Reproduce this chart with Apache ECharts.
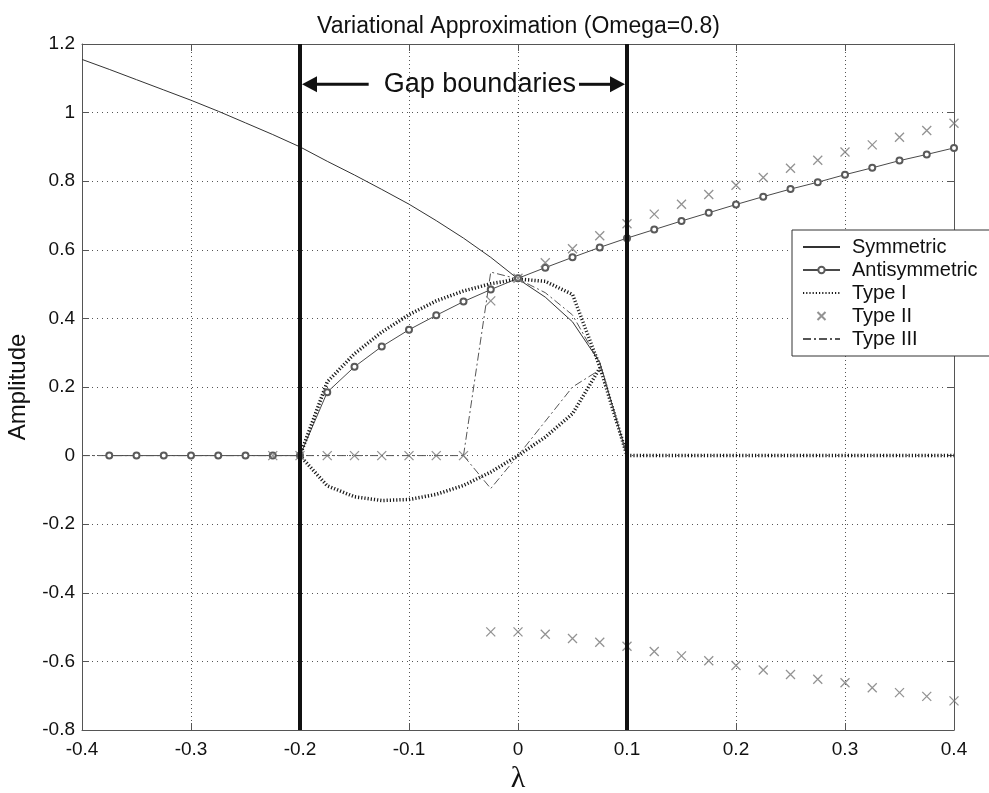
<!DOCTYPE html>
<html>
<head>
<meta charset="utf-8">
<script src="https://cdn.jsdelivr.net/npm/echarts@6/dist/echarts.min.js"></script>
<style>
  html, body { margin: 0; padding: 0; background: #fff; }
  #chart { width: 989px; height: 793px; }
</style>
</head>
<body>
<div id="chart"></div>
<script>
// Axis ticks
const xTicks = [-0.4, -0.3, -0.2, -0.1, 0, 0.1, 0.2, 0.3, 0.4];
const yTicks = [-0.8, -0.6, -0.4, -0.2, 0, 0.2, 0.4, 0.6, 0.8, 1, 1.2];

// Gap edges (thick vertical lines) and their annotation
const gapEdges = [-0.2, 0.1];
const gapLabelText = 'Gap boundaries';
const gapLabelPos = [-0.035, 1.0825];
const gapArrowInner = [-0.137, 0.056];

// Symmetric branch
const lamSym = [-0.4, -0.375, -0.35, -0.325, -0.3, -0.275, -0.25, -0.225, -0.2, -0.175, -0.15,
  -0.125, -0.1, -0.075, -0.05, -0.025, 0, 0.025, 0.05, 0.075, 0.1];
const ampSym = [1.155, 1.126, 1.096, 1.066, 1.036, 1.004, 0.970, 0.936, 0.900, 0.858, 0.818,
  0.776, 0.733, 0.685, 0.634, 0.578, 0.515, 0.462, 0.390, 0.272, 0];

// Antisymmetric branch
const lamAnti = [-0.375, -0.35, -0.325, -0.3, -0.275, -0.25, -0.225, -0.2, -0.175, -0.15, -0.125,
  -0.1, -0.075, -0.05, -0.025, 0, 0.025, 0.05, 0.075, 0.1, 0.125, 0.15, 0.175, 0.2, 0.225, 0.25,
  0.275, 0.3, 0.325, 0.35, 0.375, 0.4];
const ampAnti = [0, 0, 0, 0, 0, 0, 0, 0, 0.185, 0.259, 0.318,
  0.367, 0.409, 0.449, 0.484, 0.517, 0.548, 0.578, 0.607, 0.634, 0.659, 0.684, 0.708, 0.732, 0.755, 0.777,
  0.797, 0.819, 0.839, 0.860, 0.878, 0.897];

// Type I: upper arc, lower arc, zero branch beyond the gap
const lamT1Upper = [-0.2, -0.175, -0.15, -0.125, -0.1, -0.075, -0.05, -0.025, 0, 0.025, 0.05, 0.075, 0.1];
const ampT1Upper = [0, 0.215, 0.297, 0.360, 0.411, 0.451, 0.480, 0.501, 0.515, 0.508, 0.470, 0.260, 0];
const lamT1Lower = [-0.2, -0.175, -0.15, -0.125, -0.1, -0.075, -0.05, -0.025, 0, 0.025, 0.05, 0.075];
const ampT1Lower = [0, -0.088, -0.120, -0.131, -0.128, -0.113, -0.087, -0.048, 0, 0.054, 0.122, 0.255];
const lamT1Zero = [0.1, 0.125, 0.15, 0.175, 0.2, 0.225, 0.25, 0.275, 0.3, 0.325, 0.35, 0.375, 0.4];
const ampT1Zero = [0, 0, 0, 0, 0, 0, 0, 0, 0, 0, 0, 0, 0];

// Type II: zero branch, upper and lower branches
const lamT2Zero = [-0.225, -0.2, -0.175, -0.15, -0.125, -0.1, -0.075, -0.05];
const ampT2Zero = [0, 0, 0, 0, 0, 0, 0, 0];
const lamT2 = [-0.025, 0, 0.025, 0.05, 0.075, 0.1, 0.125, 0.15, 0.175, 0.2, 0.225, 0.25, 0.275,
  0.3, 0.325, 0.35, 0.375, 0.4];
const ampT2Upper = [0.451, 0.517, 0.562, 0.603, 0.641, 0.676, 0.704, 0.733, 0.761, 0.788, 0.811,
  0.838, 0.861, 0.885, 0.906, 0.928, 0.948, 0.969];
const ampT2Lower = [-0.514, -0.514, -0.521, -0.533, -0.544, -0.556, -0.571, -0.584, -0.598, -0.612,
  -0.625, -0.638, -0.652, -0.662, -0.677, -0.691, -0.702, -0.715];

// Type III: zero branch, upper and lower branches
const lamT3Zero = [-0.4, -0.375, -0.35, -0.325, -0.3, -0.275, -0.25, -0.225, -0.2, -0.175, -0.15,
  -0.125, -0.1, -0.075, -0.05];
const ampT3Zero = [0, 0, 0, 0, 0, 0, 0, 0, 0, 0, 0, 0, 0, 0, 0];
const lamT3Upper = [-0.05, -0.025, 0, 0.025, 0.05, 0.075, 0.1];
const ampT3Upper = [0, 0.535, 0.515, 0.475, 0.410, 0.270, 0];
const lamT3Lower = [-0.05, -0.025, 0, 0.025, 0.05, 0.075];
const ampT3Lower = [0, -0.096, 0, 0.100, 0.200, 0.250];

const legendNames = ['Symmetric', 'Antisymmetric', 'Type I', 'Type II', 'Type III'];

const zip = (xs, ys) => xs.map((x, i) => [x, ys[i]]);
const SANS = 'Liberation Sans, Arial, Helvetica, sans-serif';
const tickFmt = v => String(Math.round(v * 10) / 10);

const symLine = { color: '#333', width: 1, type: 'solid' };
const antiLine = { color: '#4a4a4a', width: 1, type: 'solid' };
const t1Line = { color: '#1a1a1a', width: 3.5, type: [1.2, 2], cap: 'butt' };
const t3Line = { color: '#555', width: 1, type: [8, 3, 2, 3] };
const crossPath = 'path://M0,0 L10,10 M10,0 L0,10';
// Plain lines carry no markers; keep their legend marker invisible too
const hiddenMarker = { color: 'transparent', borderColor: 'transparent', borderWidth: 0 };

function lineSeries(name, data, lineStyle, extra) {
  return Object.assign({
    name, type: 'line', data, symbol: 'none', showSymbol: false,
    lineStyle, itemStyle: hiddenMarker, z: 3,
    silent: true, animation: false
  }, extra || {});
}

const series = [
  lineSeries('Symmetric', zip(lamSym, ampSym), symLine),
  lineSeries('Antisymmetric', zip(lamAnti, ampAnti), antiLine, {
    symbol: 'emptyCircle', showSymbol: true, symbolSize: 6,
    itemStyle: { color: '#5a5a5a', borderWidth: 1 }
  }),
  lineSeries('Type I', zip(lamT1Upper, ampT1Upper), t1Line),
  lineSeries('Type I', zip(lamT1Lower, ampT1Lower), t1Line),
  lineSeries('Type I', zip(lamT1Zero, ampT1Zero), t1Line),
  {
    name: 'Type II', type: 'scatter', symbol: crossPath, symbolSize: 9,
    data: zip(lamT2Zero, ampT2Zero).concat(zip(lamT2, ampT2Upper), zip(lamT2, ampT2Lower)),
    itemStyle: { color: 'none', borderColor: '#777', borderWidth: 1.3 },
    z: 4, silent: true, animation: false
  },
  lineSeries('Type III', zip(lamT3Zero, ampT3Zero), t3Line),
  lineSeries('Type III', zip(lamT3Upper, ampT3Upper), t3Line),
  lineSeries('Type III', zip(lamT3Lower, ampT3Lower), t3Line)
];

// Thick vertical lines at the gap edges, spanning the full y range
gapEdges.forEach((g, i) => {
  series.push({
    name: 'gap' + i, type: 'line', symbol: 'none', silent: true, animation: false, z: 6,
    data: [[g, yTicks[0]], [g, yTicks[yTicks.length - 1]]],
    lineStyle: { color: '#111', width: 4 }
  });
});

const axisLineStyle = { color: '#555', width: 1 };
const baseX = {
  type: 'value', min: xTicks[0], max: xTicks[xTicks.length - 1], interval: xTicks[1] - xTicks[0]
};
const baseY = {
  type: 'value', min: yTicks[0], max: yTicks[yTicks.length - 1], interval: yTicks[1] - yTicks[0]
};

const option = {
  backgroundColor: '#fff',
  animation: false,
  title: {
    text: 'Variational Approximation (Omega=0.8)',
    left: 312, top: 10,
    textStyle: { fontFamily: SANS, fontSize: 23, fontWeight: 'normal', color: '#111' }
  },
  grid: { left: 82, right: 35, top: 44, bottom: 63, containLabel: false, outerBoundsMode: 'none' },
  legend: {
    data: legendNames,
    orient: 'vertical',
    left: 792, top: 230,
    padding: [7, 12, 7, 10],
    itemWidth: 37, itemHeight: 8, itemGap: 3,
    backgroundColor: '#fff', borderColor: '#333', borderWidth: 1, borderRadius: 0,
    textStyle: { fontFamily: SANS, fontSize: 20, color: '#111', lineHeight: 20, padding: [0, 0, 0, 7] },
    selectedMode: false,
    z: 10
  },
  xAxis: [
    Object.assign({}, baseX, {
      position: 'bottom',
      axisLine: { show: true, onZero: false, lineStyle: axisLineStyle },
      axisTick: { show: true, inside: true, length: 7, lineStyle: axisLineStyle },
      axisLabel: { margin: 10, fontFamily: SANS, fontSize: 19, color: '#111', formatter: tickFmt },
      splitLine: { show: true, lineStyle: { color: '#555', width: 1, type: [1, 3] } },
      name: 'λ', nameLocation: 'middle', nameGap: 32,
      nameTextStyle: { fontFamily: 'Liberation Serif, Times New Roman, serif', fontSize: 30, color: '#111' }
    }),
    Object.assign({}, baseX, {
      position: 'top',
      axisLine: { show: true, onZero: false, lineStyle: axisLineStyle },
      axisTick: { show: true, inside: true, length: 7, lineStyle: axisLineStyle },
      axisLabel: { show: false },
      splitLine: { show: false }
    })
  ],
  yAxis: [
    Object.assign({}, baseY, {
      position: 'left',
      axisLine: { show: true, onZero: false, lineStyle: axisLineStyle },
      axisTick: { show: true, inside: true, length: 7, lineStyle: axisLineStyle },
      axisLabel: { margin: 7, fontFamily: SANS, fontSize: 19, color: '#111', formatter: tickFmt },
      splitLine: { show: true, lineStyle: { color: '#555', width: 1, type: [1, 4] } },
      name: 'Amplitude', nameLocation: 'middle', nameGap: 52,
      nameTextStyle: { fontFamily: SANS, fontSize: 24, color: '#111' }
    }),
    Object.assign({}, baseY, {
      position: 'right',
      axisLine: { show: true, onZero: false, lineStyle: axisLineStyle },
      axisTick: { show: true, inside: true, length: 7, lineStyle: axisLineStyle },
      axisLabel: { show: false },
      splitLine: { show: false }
    })
  ],
  series
};

const chart = echarts.init(document.getElementById('chart'), null, { renderer: 'canvas' });
chart.setOption(option);

// Gap annotation: label with arrows pointing at both gap edges
const toPx = p => chart.convertToPixel({ xAxisIndex: 0, yAxisIndex: 0 }, p);
const yA = gapLabelPos[1];
const leftEdge = toPx([gapEdges[0], yA]);
const rightEdge = toPx([gapEdges[1], yA]);
const leftInner = toPx([gapArrowInner[0], yA]);
const rightInner = toPx([gapArrowInner[1], yA]);
const labelPx = toPx(gapLabelPos);
const headLen = 15, headHalf = 8;
const edgeHalf = 2;

chart.setOption({
  graphic: [
    {
      type: 'line', z: 20, silent: true,
      shape: { x1: leftInner[0], y1: leftInner[1], x2: leftEdge[0] + edgeHalf + headLen - 1, y2: leftEdge[1] },
      style: { stroke: '#111', lineWidth: 3 }
    },
    {
      type: 'polygon', z: 20, silent: true,
      shape: { points: [[leftEdge[0] + edgeHalf, leftEdge[1]], [leftEdge[0] + edgeHalf + headLen, leftEdge[1] - headHalf], [leftEdge[0] + edgeHalf + headLen, leftEdge[1] + headHalf]] },
      style: { fill: '#111' }
    },
    {
      type: 'line', z: 20, silent: true,
      shape: { x1: rightInner[0], y1: rightInner[1], x2: rightEdge[0] - edgeHalf - headLen + 1, y2: rightEdge[1] },
      style: { stroke: '#111', lineWidth: 3 }
    },
    {
      type: 'polygon', z: 20, silent: true,
      shape: { points: [[rightEdge[0] - edgeHalf, rightEdge[1]], [rightEdge[0] - edgeHalf - headLen, rightEdge[1] - headHalf], [rightEdge[0] - edgeHalf - headLen, rightEdge[1] + headHalf]] },
      style: { fill: '#111' }
    },
    {
      type: 'text', z: 20, silent: true,
      x: labelPx[0], y: labelPx[1],
      style: {
        text: gapLabelText, fontFamily: SANS, fontSize: 27, fill: '#111',
        align: 'center', verticalAlign: 'middle'
      }
    }
  ]
});
</script>
</body>
</html>
